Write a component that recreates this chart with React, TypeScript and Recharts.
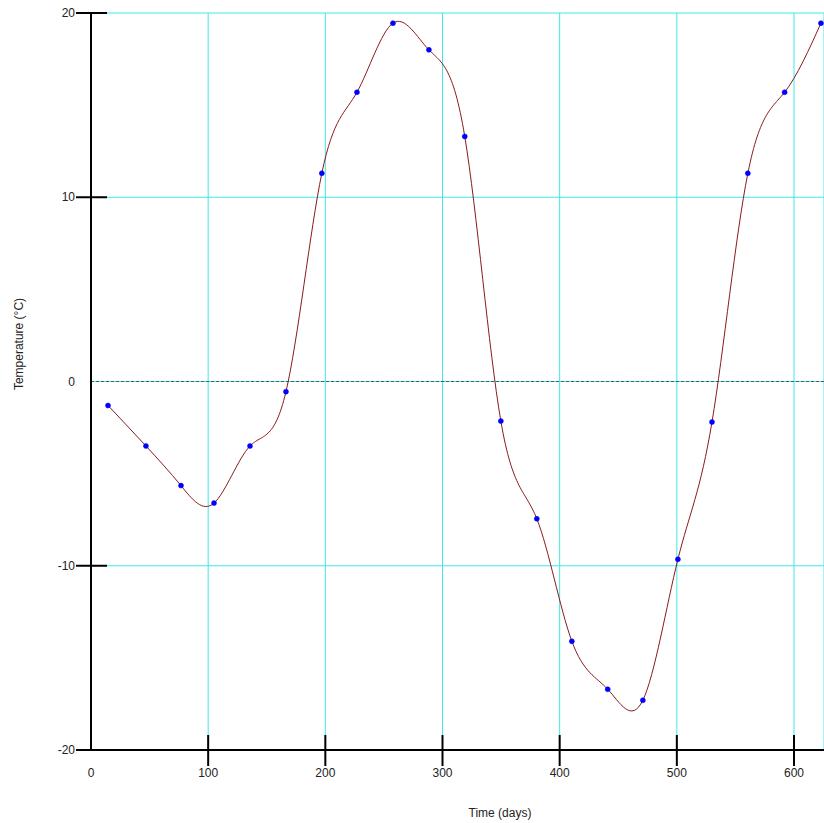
import React from "react";
import {
  LineChart,
  Line,
  XAxis,
  YAxis,
  CartesianGrid,
  ReferenceLine,
} from "recharts";

const days = [
  14.5, 46.9, 76.8, 105, 135.7, 166.4, 197, 227, 257.7, 288.4, 319, 349.8,
  380.5, 410.4, 441, 471, 500.9, 530, 560.6, 592, 623,
];
const temps = [
  -1.3, -3.5, -5.65, -6.6, -3.5, -0.55, 11.3, 15.7, 19.45, 18.0, 13.3, -2.15,
  -7.45, -14.1, -16.7, -17.3, -9.65, -2.2, 11.3, 15.7, 19.45,
];
const xTicks = [0, 100, 200, 300, 400, 500, 600];
const yTicks = [-20, -10, 0, 10, 20];

const data = days.map((d, i) => ({ day: d, temp: temps[i] }));

const FONT = "Arial, 'Liberation Sans', sans-serif";

const YTick = (props: any) => {
  const { x, y, payload } = props;
  const v = payload.value;
  return (
    <g>
      {v !== 0 && (
        <line x1={x - 15} x2={x + 16} y1={y} y2={y} stroke="#000" strokeWidth={2} />
      )}
      <text
        x={x - 16}
        y={y}
        dy={4}
        textAnchor="end"
        fontSize={12}
        fontFamily={FONT}
        fill="#222"
      >
        {v}
      </text>
    </g>
  );
};

const XTick = (props: any) => {
  const { x, y, payload } = props;
  const v = payload.value;
  return (
    <g>
      {v !== 0 && (
        <line x1={x} x2={x} y1={y - 15} y2={y + 16} stroke="#000" strokeWidth={2} />
      )}
      <text
        x={x}
        y={y + 27}
        textAnchor="middle"
        fontSize={12}
        fontFamily={FONT}
        fill="#222"
      >
        {v}
      </text>
    </g>
  );
};

export default function App() {
  return (
    <div style={{ position: "absolute", left: 0, top: 0, width: 824, height: 823, background: "#fff" }}>
      <LineChart
        width={824}
        height={823}
        data={data}
        margin={{ top: 13, right: 0, left: 0, bottom: 0 }}
      >
        <CartesianGrid stroke="#3ee8e8" strokeWidth={1} />
        <XAxis
          dataKey="day"
          type="number"
          domain={[0, 625.6]}
          ticks={xTicks}
          allowDataOverflow
          height={73}
          tickSize={0}
          tickMargin={0}
          tickLine={false}
          axisLine={{ stroke: "#000", strokeWidth: 2 }}
          tick={<XTick />}
          interval={0}
        />
        <YAxis
          type="number"
          domain={[-20, 20]}
          ticks={yTicks}
          allowDataOverflow
          width={91}
          tickSize={0}
          tickMargin={0}
          tickLine={false}
          axisLine={{ stroke: "#000", strokeWidth: 2 }}
          tick={<YTick />}
          interval={0}
        />
        <ReferenceLine y={0} stroke="#3a6470" strokeDasharray="3 2" strokeWidth={1} />
        <Line
          type="natural"
          dataKey="temp"
          stroke="#8b1a1a"
          strokeWidth={1}
          dot={{ r: 2.5, fill: "#0000ff", stroke: "#0000ff", strokeWidth: 0.5 }}
          isAnimationActive={false}
        />
      </LineChart>
      <div
        style={{
          position: "absolute",
          left: 500,
          top: 813,
          transform: "translate(-50%, -50%)",
          whiteSpace: "nowrap",
          fontSize: 12,
          fontFamily: FONT,
          color: "#222",
        }}
      >
        Time (days)
      </div>
      <div
        style={{
          position: "absolute",
          left: 19,
          top: 344,
          transform: "translate(-50%, -50%) rotate(-90deg)",
          whiteSpace: "nowrap",
          fontSize: 12,
          fontFamily: FONT,
          color: "#222",
        }}
      >
        Temperature (°C)
      </div>
    </div>
  );
}
